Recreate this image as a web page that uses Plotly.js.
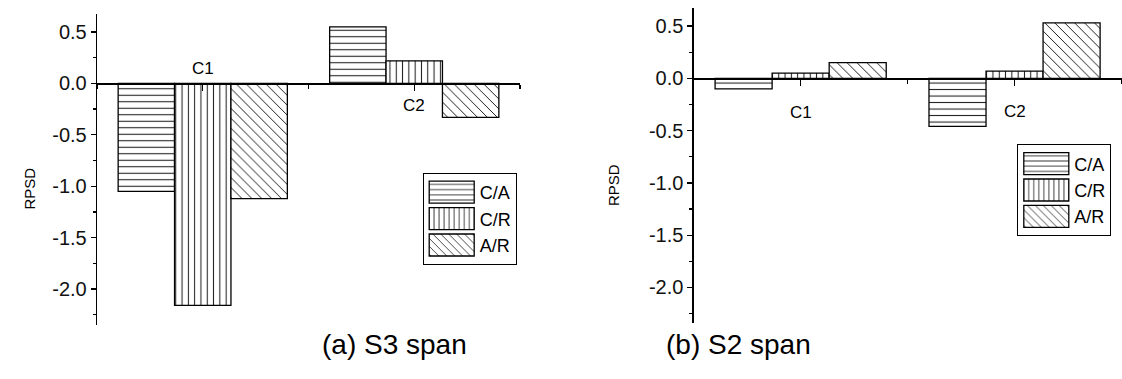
<!DOCTYPE html>
<html>
<head>
<meta charset="utf-8">
<script src="https://cdn.plot.ly/plotly-3.0.1.min.js"></script>
<style>
  html, body { margin: 0; padding: 0; background: #fff; }
  #chart { width: 1122px; height: 379px; }
</style>
</head>
<body>
<div id="chart"></div>
<script>
// ---- data ----
const categories = ['C1', 'C2'];
const seriesNames = ['C/A', 'C/R', 'A/R'];
const s3CA = [-1.05, 0.55];
const s3CR = [-2.16, 0.22];
const s3AR = [-1.12, -0.33];
const s2CA = [-0.10, -0.46];
const s2CR = [0.05, 0.07];
const s2AR = [0.15, 0.53];
const yTickVals = [-2, -1.5, -1, -0.5, 0, 0.5];
const yTickText = ['-2.0', '-1.5', '-1.0', '-0.5', '0.0', '0.5'];
const panelTitles = ['(a) S3 span', '(b) S2 span'];
const yTitle = 'RPSD';

// ---- styling ----
const FONT = 'Arial, "Liberation Sans", sans-serif';
const W = 1122, H = 379;
const xPos = categories.map((c, i) => i + 1);
const patterns = [
  {shape: '-', size: 6.5, solidity: 0.16},
  {shape: '|', size: 6.3, solidity: 0.16},
  {shape: '\\', size: 7, solidity: 0.14}
];

function barTrace(name, vals, k, xa, ya, leg) {
  const p = patterns[k];
  return {
    type: 'bar', name: name, x: xPos, y: vals,
    xaxis: xa, yaxis: ya, legend: leg,
    marker: {
      color: 'white',
      line: {color: '#000', width: 1.3},
      pattern: {shape: p.shape, size: p.size, solidity: p.solidity, fgcolor: '#1a1a1a', bgcolor: 'white', fillmode: 'replace'}
    },
    hoverinfo: 'x+y+name'
  };
}

const panelA = [s3CA, s3CR, s3AR];
const panelB = [s2CA, s2CR, s2AR];
const traces = [];
panelA.forEach((v, k) => traces.push(barTrace(seriesNames[k], v, k, 'x', 'y', 'legend')));
panelB.forEach((v, k) => traces.push(barTrace(seriesNames[k], v, k, 'x2', 'y2', 'legend2')));

const yRangeA = [-2.35, 0.675];
const yRangeB = [-2.34, 0.67];
const yDomA = [1 - 325 / H, 1 - 14 / H];
const yDomB = [1 - 323 / H, 1 - 8.3 / H];
function zeroPos(dom, r) { return dom[0] + (0 - r[0]) / (r[1] - r[0]) * (dom[1] - dom[0]); }

function xAxis(dom, yDom, yR) {
  return {
    domain: dom, range: [0.5, 2.5], anchor: 'free', position: zeroPos(yDom, yR),
    showline: true, linecolor: '#000', linewidth: 1.3,
    ticks: 'outside', tickmode: 'linear', tick0: 1, dtick: 1, ticklen: 6, tickwidth: 1.3, tickcolor: '#000',
    showticklabels: false, showgrid: false, zeroline: false, fixedrange: true,
    minor: {tickmode: 'linear', tick0: 0.5, dtick: 0.5, ticks: 'outside', ticklen: 4, tickwidth: 1.3, tickcolor: '#000', showgrid: false}
  };
}
function yAxis(dom, r, anchor) {
  return {
    domain: dom, range: r, anchor: anchor,
    showline: true, linecolor: '#000', linewidth: 1.3,
    ticks: 'outside', tickmode: 'array', tickvals: yTickVals, ticktext: yTickText,
    ticklen: 5, tickwidth: 1.3, tickcolor: '#000',
    tickfont: {family: FONT, size: 20, color: '#111'},
    showgrid: false, zeroline: false, fixedrange: true,
    minor: {tickmode: 'linear', tick0: 0, dtick: 0.25, ticks: 'outside', ticklen: 3, tickwidth: 1.3, tickcolor: '#000', showgrid: false}
  };
}

const legendBase = {
  xref: 'paper', yref: 'paper', xanchor: 'left', yanchor: 'middle',
  bgcolor: 'white', bordercolor: '#000', borderwidth: 1,
  font: {family: FONT, size: 18, color: '#000'},
  itemwidth: 46, tracegroupgap: 0
};

const labelFont = {family: FONT, size: 17, color: '#000'};
const layout = {
  width: W, height: H,
  margin: {l: 0, r: 0, t: 0, b: 0},
  paper_bgcolor: 'white', plot_bgcolor: 'white',
  barmode: 'group', bargap: 0.2, bargroupgap: 0,
  showlegend: true,
  xaxis: xAxis([97 / W, 520 / W], yDomA, yRangeA),
  yaxis: yAxis(yDomA, yRangeA, 'x'),
  xaxis2: xAxis([693.7 / W, 1121.5 / W], yDomB, yRangeB),
  yaxis2: yAxis(yDomB, yRangeB, 'x2'),
  legend: Object.assign({}, legendBase, {x: 422.7 / W, y: 1 - 219 / H}),
  legend2: Object.assign({}, legendBase, {x: 1017.3 / W, y: 1 - 190.4 / H}),
  annotations: [
    {xref: 'x', yref: 'y', x: xPos[0], y: 0.148, text: categories[0], showarrow: false, font: labelFont},
    {xref: 'x', yref: 'y', x: xPos[1], y: -0.212, text: categories[1], showarrow: false, font: labelFont},
    {xref: 'x2', yref: 'y2', x: xPos[0], y: -0.33, text: categories[0], showarrow: false, font: labelFont},
    {xref: 'x2', yref: 'y2', x: xPos[1], y: -0.32, text: categories[1], showarrow: false, font: labelFont},
    {xref: 'paper', yref: 'paper', x: 18 / W, y: 1 - 189 / H, text: yTitle, textangle: -90, showarrow: false, font: {family: FONT, size: 15, color: '#000'}},
    {xref: 'paper', yref: 'paper', x: 613 / W, y: 1 - 185 / H, text: yTitle, textangle: -90, showarrow: false, font: {family: FONT, size: 15, color: '#000'}},
    {xref: 'paper', yref: 'paper', x: 320 / W, y: 1 - 362 / H, text: panelTitles[0], showarrow: false, font: {family: FONT, size: 28, color: '#000'}},
    {xref: 'paper', yref: 'paper', x: 813 / W, y: 1 - 362 / H, text: panelTitles[1], showarrow: false, font: {family: FONT, size: 28, color: '#000'}}
  ]
};

Plotly.newPlot('chart', traces, layout, {displayModeBar: false, staticPlot: true}).then(function (gd) {
  // enlarge the legend swatches to the wide hatched boxes of the original figure
  gd.querySelectorAll('.legendpoints path').forEach(function (p) {
    p.setAttribute('d', 'M22.5,11H-22.5V-11H22.5Z');
  });
});
</script>
</body>
</html>
